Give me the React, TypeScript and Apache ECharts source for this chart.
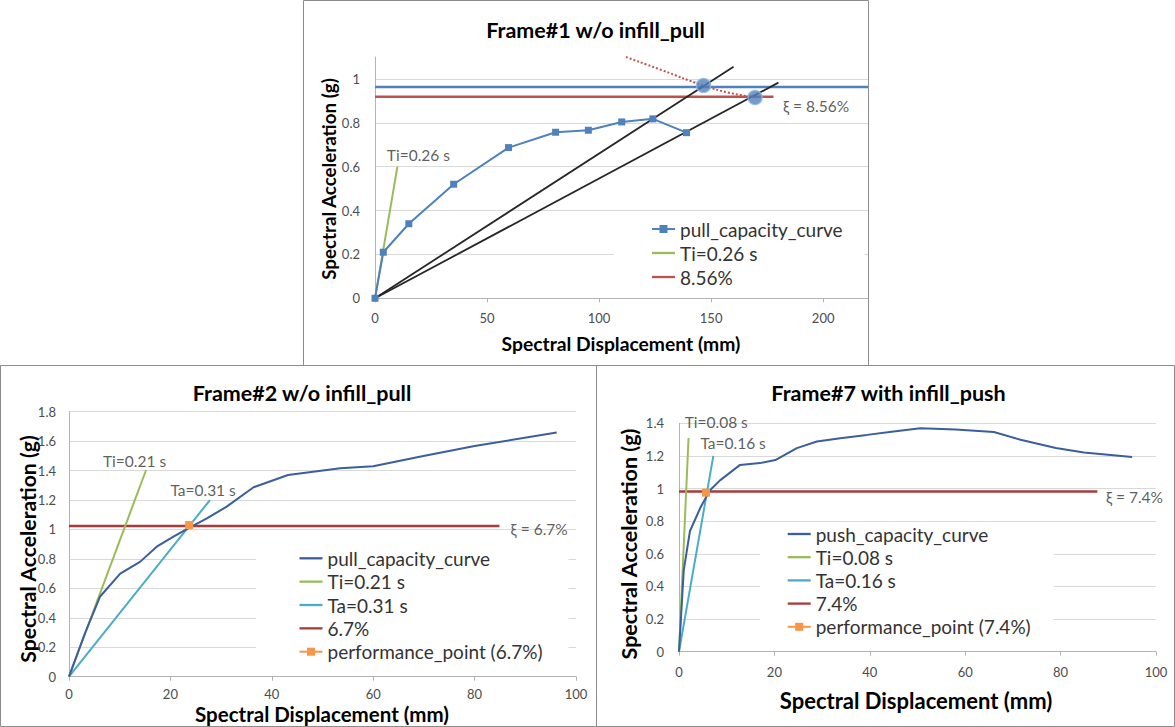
import React, { useEffect, useRef } from 'react';
import * as echarts from 'echarts';

// ---------- Panel 1: Frame#1 w/o infill_pull ----------
const P1_CURVE: number[][] = [[0, 0], [3.7, 0.21], [15.1, 0.34], [35.1, 0.52], [59.6, 0.687], [80.6, 0.757], [95.2, 0.766], [110.1, 0.804], [124, 0.818], [139, 0.755]];
const P1_TI: number[][] = [[0, 0], [10, 0.6]];
const P1_DAMP: number[][] = [[0, 0.919], [177.8, 0.919]];
const P1_LEVEL: number[][] = [[0, 0.9635], [220, 0.9635]];
const P1_SECANT_A: number[][] = [[0, 0], [160, 1.056]];
const P1_SECANT_B: number[][] = [[0, 0], [180, 0.983]];
const P1_SPECTRUM: number[][] = [[112, 1.1], [128, 1.04], [146.6, 0.97], [158, 0.937], [170, 0.915]];
const P1_POINTS: number[][] = [[146.6, 0.97], [169.6, 0.915]];
const P1_NOTES = [{ name: 'Ti=0.26 s', value: [5.5, 0.649] }, { name: 'ξ = 8.56%', value: [182.3, 0.874] }];

// ---------- Panel 2: Frame#2 w/o infill_pull ----------
const P2_CURVE: number[][] = [[0, 0], [3.2, 0.3], [6.1, 0.543], [10.1, 0.7], [14.0, 0.78], [17.3, 0.883], [20.6, 0.951], [23.5, 1.008], [27.2, 1.076], [31.1, 1.155], [36.4, 1.287], [43.2, 1.37], [53.5, 1.416], [60, 1.43], [69.4, 1.495], [80, 1.567], [96.2, 1.658]];
const P2_TI: number[][] = [[0, 0], [15.2, 1.404]];
const P2_TA: number[][] = [[0, 0], [27.8, 1.2]];
const P2_DAMP: number[][] = [[0, 1.024], [84.9, 1.024]];
const P2_PERF: number[][] = [[23.7, 1.03]];
const P2_NOTES = [{ name: 'Ti=0.21 s', value: [6.8, 1.46] }, { name: 'Ta=0.31 s', value: [20.1, 1.268] }, { name: 'ξ = 6.7%', value: [87.2, 0.997] }];

// ---------- Panel 3: Frame#7 with infill_push ----------
const P3_CURVE: number[][] = [[0, 0], [1, 0.5], [2.3, 0.74], [4.6, 0.89], [6.5, 0.99], [8.6, 1.05], [12.8, 1.145], [17, 1.156], [20.2, 1.175], [24.7, 1.248], [28.9, 1.288], [33.8, 1.309], [39.4, 1.329], [45, 1.35], [50.6, 1.37], [58, 1.362], [66, 1.347], [71.6, 1.299], [79, 1.248], [84.9, 1.221], [95, 1.193]];
const P3_TI: number[][] = [[0, 0], [2, 1.31]];
const P3_TA: number[][] = [[0, 0], [7.2, 1.2]];
const P3_DAMP: number[][] = [[0, 0.982], [87.7, 0.982]];
const P3_PERF: number[][] = [[5.67, 0.975]];
const P3_NOTES = [{ name: 'Ti=0.08 s', value: [1.3, 1.405] }, { name: 'Ta=0.16 s', value: [4.6, 1.278] }, { name: 'ξ = 7.4%', value: [89.6, 0.945] }];

const FONT = 'Lato, "Liberation Sans", sans-serif';
const AXIS = '#b3b3b3';
const GRID = '#d9d9d9';
const LBL = '#4d4d4d';
const BORDER = '#8c8c8c';
const BLUE = '#4F81BD';
const NAVY = '#3B5E9E';
const GREEN = '#9BBB59';
const TEAL = '#4BACC6';
const RED1 = '#C0504D';
const RED2 = '#A93A3A';
const ORANGE = '#F79646';
const LINE_ICON = 'path://M0,0H40V4H0Z';

function xAxisFor(gridIndex: number, max: number, interval: number, hideMax: boolean, margin: number) {
  return {
    type: 'value', gridIndex, min: 0, max, interval,
    axisLine: { show: true, onZero: false, lineStyle: { color: AXIS, width: 1 } },
    axisTick: { show: true, length: 4, lineStyle: { color: AXIS } },
    axisLabel: { color: LBL, fontSize: 13, fontFamily: FONT, margin, showMaxLabel: hideMax ? false : undefined },
    splitLine: { show: false },
  };
}
function yAxisFor(gridIndex: number, max: number, interval: number, hideMax: boolean, margin: number) {
  return {
    type: 'value', gridIndex, min: 0, max, interval,
    axisLine: { show: true, onZero: false, lineStyle: { color: AXIS, width: 1 } },
    axisTick: { show: false },
    axisLabel: { color: LBL, fontSize: 13, fontFamily: FONT, margin, showMaxLabel: hideMax ? false : undefined },
    splitLine: { show: true, showMaxLine: !hideMax, lineStyle: { color: GRID, width: 1 } },
  };
}
function line(name: string, data: number[][], color: string, width: number, idx: number, extra: any = {}) {
  return {
    type: 'line', name, data, xAxisIndex: idx, yAxisIndex: idx, symbol: 'none',
    lineStyle: { color, width }, itemStyle: { color }, silent: true, z: 3, ...extra,
  };
}
function notes(data: any[], idx: number) {
  return {
    type: 'scatter', data, xAxisIndex: idx, yAxisIndex: idx, symbolSize: 1, clip: false, silent: true,
    itemStyle: { color: 'transparent' }, z: 6,
    label: { show: true, position: [0, 0], align: 'left', verticalAlign: 'middle', formatter: '{b}', color: '#333333', fontSize: 15.5, fontFamily: FONT },
  };
}
function legendFor(left: number, top: number, padding: number[], gap: number, data: any[]) {
  return {
    orient: 'vertical', left, top, padding, itemGap: gap, itemWidth: 23, itemHeight: 10,
    backgroundColor: '#ffffff', selectedMode: false, data,
    formatter: (n: string) => n.replace('@2', ''),
    textStyle: { fontSize: 19, lineHeight: 19, fontFamily: FONT, color: '#333333' },
  };
}
function text(x: number, y: number, t: string, size: number, rotate = false) {
  return {
    type: 'text', x, y, rotation: rotate ? Math.PI / 2 : 0, silent: true,
    style: { text: t, fontSize: size, fontWeight: 'bold', fontFamily: FONT, fill: '#000', align: 'center', verticalAlign: 'middle' },
  };
}
function box(x: number, y: number, w: number, h: number) {
  return { type: 'rect', silent: true, shape: { x, y, width: w, height: h }, style: { fill: 'none', stroke: BORDER, lineWidth: 1 } };
}

export default function App() {
  const ref = useRef<HTMLDivElement>(null);
  useEffect(() => {
    if (!ref.current) return;
    const chart = echarts.init(ref.current, undefined, { renderer: 'svg' });
    chart.setOption({
      animation: false,
      backgroundColor: '#ffffff',
      grid: [
        { left: 375, top: 57, width: 493, height: 241.3 },
        { left: 69, top: 411.7, width: 507, height: 265 },
        { left: 679, top: 423.3, width: 477, height: 228.4 },
      ],
      xAxis: [xAxisFor(0, 220, 50, true, 13), xAxisFor(1, 100, 20, false, 11), xAxisFor(2, 100, 20, false, 14)],
      yAxis: [yAxisFor(0, 1.1, 0.2, true, 15), yAxisFor(1, 1.8, 0.2, false, 13), yAxisFor(2, 1.4, 0.2, false, 15)],
      legend: [
        legendFor(614, 216, [3.5, 22, 6, 37], 5, [
          { name: 'pull_capacity_curve' },
          { name: 'Ti=0.26 s', icon: LINE_ICON },
          { name: '8.56%', icon: LINE_ICON },
        ]),
        legendFor(256, 540, [8.8, 26, 7, 42.5], 4.35, [
          { name: 'pull_capacity_curve@2', icon: LINE_ICON },
          { name: 'Ti=0.21 s', icon: LINE_ICON },
          { name: 'Ta=0.31 s', icon: LINE_ICON },
          { name: '6.7%', icon: LINE_ICON },
          { name: 'performance_point (6.7%)' },
        ]),
        legendFor(760, 522, [2.5, 23, 4, 26.7], 4.2, [
          { name: 'push_capacity_curve', icon: LINE_ICON },
          { name: 'Ti=0.08 s', icon: LINE_ICON },
          { name: 'Ta=0.16 s', icon: LINE_ICON },
          { name: '7.4%', icon: LINE_ICON },
          { name: 'performance_point (7.4%)' },
        ]),
      ],
      series: [
        // panel 1
        line('demand level', P1_LEVEL, BLUE, 2.5, 0),
        line('8.56%', P1_DAMP, RED1, 2.5, 0),
        line('secant A', P1_SECANT_A, '#262626', 1.8, 0),
        line('secant B', P1_SECANT_B, '#262626', 1.8, 0),
        line('reduced spectrum', P1_SPECTRUM, RED1, 2, 0, { smooth: true, lineStyle: { color: RED1, width: 2, type: 'dotted' } }),
        line('Ti=0.26 s', P1_TI, GREEN, 2, 0),
        line('pull_capacity_curve', P1_CURVE, BLUE, 2, 0, { symbol: 'rect', symbolSize: 7, z: 4 }),
        {
          type: 'scatter', name: 'intersections', data: P1_POINTS, xAxisIndex: 0, yAxisIndex: 0, symbol: 'circle', symbolSize: 14,
          itemStyle: { color: BLUE, borderColor: '#8EB4E3', borderWidth: 1.5 }, z: 5, silent: true,
        },
        notes(P1_NOTES, 0),
        // panel 2
        line('6.7%', P2_DAMP, RED2, 2.5, 1),
        line('Ti=0.21 s', P2_TI, GREEN, 2, 1),
        line('Ta=0.31 s', P2_TA, TEAL, 2, 1),
        line('pull_capacity_curve@2', P2_CURVE, NAVY, 2, 1),
        line('performance_point (6.7%)', P2_PERF, ORANGE, 2, 1, { symbol: 'rect', symbolSize: 8, z: 5 }),
        notes(P2_NOTES, 1),
        // panel 3
        line('7.4%', P3_DAMP, RED2, 2.5, 2),
        line('Ti=0.08 s', P3_TI, GREEN, 2, 2),
        line('Ta=0.16 s', P3_TA, TEAL, 2, 2),
        line('push_capacity_curve', P3_CURVE, NAVY, 2, 2),
        line('performance_point (7.4%)', P3_PERF, ORANGE, 2, 2, { symbol: 'rect', symbolSize: 8, z: 5 }),
        notes(P3_NOTES, 2),
      ],
      graphic: [
        box(303.5, 0.5, 565, 365),
        box(0.5, 365.5, 596, 361),
        box(596.5, 365.5, 578, 361),
        text(595.5, 30, 'Frame#1 w/o infill_pull', 21.5),
        text(621, 343, 'Spectral Displacement (mm)', 19.3),
        text(328, 179, 'Spectral Acceleration (g)', 18.8, true),
        text(302, 393, 'Frame#2 w/o infill_pull', 21.5),
        text(322, 714, 'Spectral Displacement (mm)', 20.5),
        text(27.5, 549, 'Spectral Acceleration (g)', 21.2, true),
        text(888.5, 393, 'Frame#7 with infill_push', 21.5),
        text(916, 700, 'Spectral Displacement (mm)', 22),
        text(629, 544, 'Spectral Acceleration (g)', 21.5, true),
      ],
    });
    return () => chart.dispose();
  }, []);
  return <div ref={ref} style={{ position: 'fixed', left: 0, top: 0, width: 1175, height: 727, background: '#fff' }} />;
}
